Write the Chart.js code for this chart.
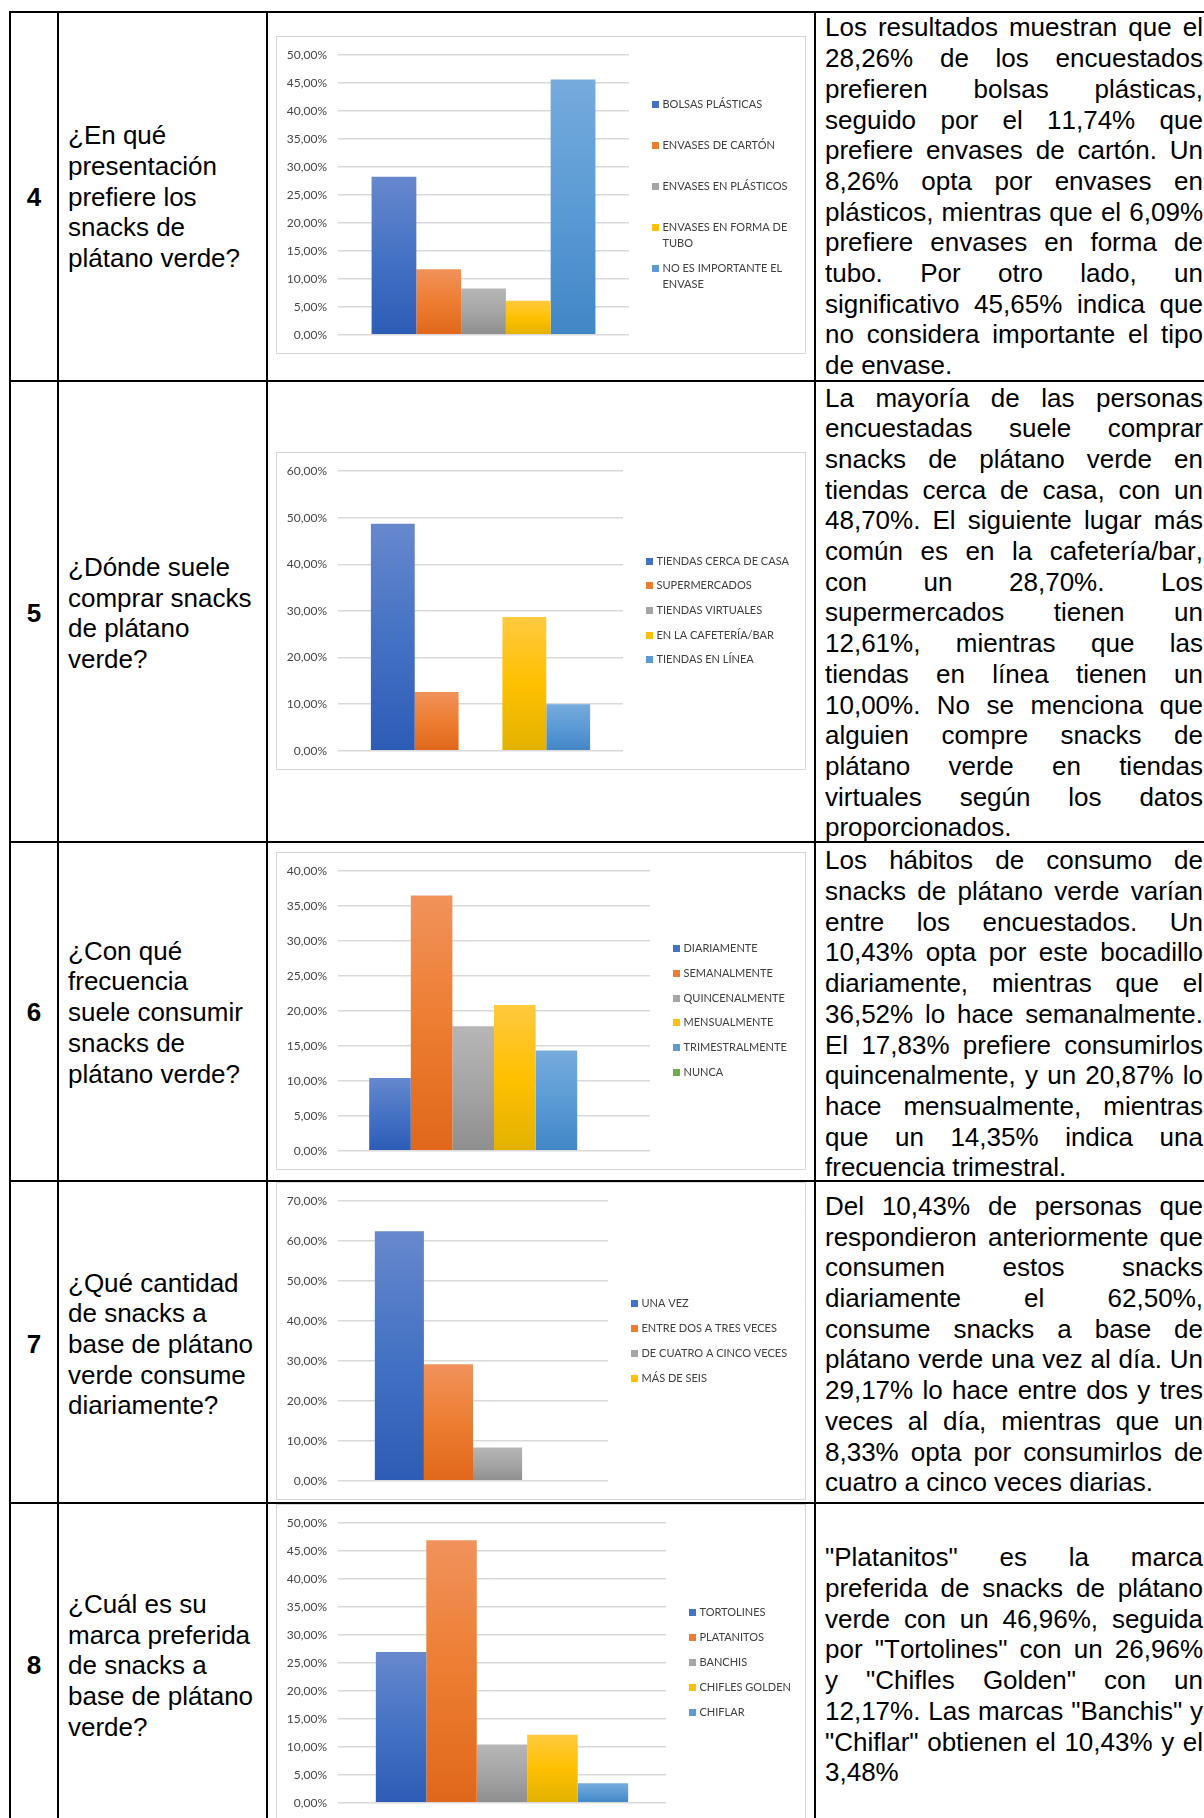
<!DOCTYPE html>
<html lang="es">
<head>
<meta charset="utf-8">
<title>Snacks de plátano verde – resultados de la encuesta</title>
<script src="https://cdn.jsdelivr.net/npm/chart.js@4.4.1/dist/chart.umd.min.js"></script>
<style>
  html, body { margin: 0; padding: 0; background: #fff; }
  body {
    position: relative; width: 1204px; height: 1818px; overflow: hidden;
    font-family: "Liberation Sans", Arial, sans-serif; color: #000;
    font-kerning: none;
  }
  .hl { position: absolute; left: 9px; width: 1260px; height: 2px; background: #000; }
  .vl { position: absolute; top: 11px; width: 2px; height: 1900px; background: #000; }
  .num {
    position: absolute; left: 11px; width: 46px; text-align: center;
    font-weight: bold; font-size: 26px; line-height: 30.7px;
  }
  .q {
    position: absolute; left: 68px; font-size: 26px; line-height: 30.7px; white-space: nowrap;
  }
  .desc { position: absolute; left: 825px; width: 378px; font-size: 26px; line-height: 30.7px; }
  .desc div { white-space: nowrap; text-align: justify; text-align-last: justify; }
  .desc div.last { text-align: left; text-align-last: left; }
  .box {
    position: absolute; left: 276px; width: 530px; height: 318px;
    box-sizing: border-box; border: 1px solid #d6d6d6; background: #fff;
  }
  .box canvas { display: block; }
</style>
</head>
<body>
<div id="page"></div>
<script>
// ---- Pregunta 4: presentación preferida ----
const q4Series = ['BOLSAS PLÁSTICAS', 'ENVASES DE CARTÓN', 'ENVASES EN PLÁSTICOS', 'ENVASES EN FORMA DE TUBO', 'NO ES IMPORTANTE EL ENVASE'];
const q4Values = [28.26, 11.74, 8.26, 6.09, 45.65];
const q4Axis = [0, 50, 5];   // min, max, step (%)

// ---- Pregunta 5: lugar de compra ----
const q5Series = ['TIENDAS CERCA DE CASA', 'SUPERMERCADOS', 'TIENDAS VIRTUALES', 'EN LA CAFETERÍA/BAR', 'TIENDAS EN LÍNEA'];
const q5Values = [48.70, 12.61, 0, 28.70, 10.00];
const q5Axis = [0, 60, 10];

// ---- Pregunta 6: frecuencia de consumo ----
const q6Series = ['DIARIAMENTE', 'SEMANALMENTE', 'QUINCENALMENTE', 'MENSUALMENTE', 'TRIMESTRALMENTE', 'NUNCA'];
const q6Values = [10.43, 36.52, 17.83, 20.87, 14.35, 0];
const q6Axis = [0, 40, 5];

// ---- Pregunta 7: cantidad diaria ----
const q7Series = ['UNA VEZ', 'ENTRE DOS A TRES VECES', 'DE CUATRO A CINCO VECES', 'MÁS DE SEIS'];
const q7Values = [62.50, 29.17, 8.33, 0];
const q7Axis = [0, 70, 10];

// ---- Pregunta 8: marca preferida ----
const q8Series = ['TORTOLINES', 'PLATANITOS', 'BANCHIS', 'CHIFLES GOLDEN', 'CHIFLAR'];
const q8Values = [26.96, 46.96, 10.43, 12.17, 3.48];
const q8Axis = [0, 50, 5];

// Texto de la tabla
const numbers = ['4', '5', '6', '7', '8'];
const questions = [
  ['¿En qué', 'presentación', 'prefiere los', 'snacks de', 'plátano verde?'],
  ['¿Dónde suele', 'comprar snacks', 'de plátano', 'verde?'],
  ['¿Con qué', 'frecuencia', 'suele consumir', 'snacks de', 'plátano verde?'],
  ['¿Qué cantidad', 'de snacks a', 'base de plátano', 'verde consume', 'diariamente?'],
  ['¿Cuál es su', 'marca preferida', 'de snacks a', 'base de plátano', 'verde?']
];
const descriptions = [
  ['Los resultados muestran que el', '28,26% de los encuestados', 'prefieren bolsas plásticas,',
   'seguido por el 11,74% que', 'prefiere envases de cartón. Un', '8,26% opta por envases en',
   'plásticos, mientras que el 6,09%', 'prefiere envases en forma de', 'tubo. Por otro lado, un',
   'significativo 45,65% indica que', 'no considera importante el tipo', 'de envase.'],
  ['La mayoría de las personas', 'encuestadas suele comprar', 'snacks de plátano verde en',
   'tiendas cerca de casa, con un', '48,70%. El siguiente lugar más', 'común es en la cafetería/bar,',
   'con un 28,70%. Los', 'supermercados tienen un', '12,61%, mientras que las',
   'tiendas en línea tienen un', '10,00%. No se menciona que', 'alguien compre snacks de',
   'plátano verde en tiendas', 'virtuales según los datos', 'proporcionados.'],
  ['Los hábitos de consumo de', 'snacks de plátano verde varían', 'entre los encuestados. Un',
   '10,43% opta por este bocadillo', 'diariamente, mientras que el', '36,52% lo hace semanalmente.',
   'El 17,83% prefiere consumirlos', 'quincenalmente, y un 20,87% lo', 'hace mensualmente, mientras',
   'que un 14,35% indica una', 'frecuencia trimestral.'],
  ['Del 10,43% de personas que', 'respondieron anteriormente que', 'consumen estos snacks',
   'diariamente el 62,50%,', 'consume snacks a base de', 'plátano verde una vez al día. Un',
   '29,17% lo hace entre dos y tres', 'veces al día, mientras que un', '8,33% opta por consumirlos de',
   'cuatro a cinco veces diarias.'],
  ['"Platanitos" es la marca', 'preferida de snacks de plátano', 'verde con un 46,96%, seguida',
   'por "Tortolines" con un 26,96%', 'y "Chifles Golden" con un', '12,17%. Las marcas "Banchis" y',
   '"Chiflar" obtienen el 10,43% y el', '3,48%']
];

// Colores de serie (claro, base, oscuro) para el degradado vertical de cada barra
const seriesColors = [
  ['#6788cd', '#4472c4', '#2d5cb6'],
  ['#f1925b', '#ed7d31', '#e0671a'],
  ['#b6b6b6', '#a5a5a5', '#8e8e8e'],
  ['#ffc940', '#ffc000', '#e2b200'],
  ['#76abdd', '#5b9bd5', '#4186c6'],
  ['#86bd62', '#70ad47', '#5c9637']
];

// ---------------- Maquetación de la tabla ----------------
const page = document.getElementById('page');
function el(cls, styles, html) {
  const d = document.createElement('div');
  d.className = cls;
  Object.assign(d.style, styles);
  if (html !== undefined) d.innerHTML = html;
  page.appendChild(d);
  return d;
}
const rowLines = [11, 380, 841, 1180, 1502];
const colLines = [9, 57, 266, 814];
rowLines.forEach(y => el('hl', { top: y + 'px' }));
colLines.forEach(x => el('vl', { left: x + 'px' }));

const LH = 30.7;
const numCenters = [197.2, 613.6, 1012.6, 1344.3, 1665.7];
const qFirstCenters = [135.7, 567.2, 951.1, 1282.9, 1604.2];
const dFirstCenters = [27.8, 397.9, 860.7, 1206.3, 1557.7];

numbers.forEach((n, i) => {
  const d = el('num', { top: (numCenters[i] - LH / 2) + 'px' });
  d.textContent = n;
});
questions.forEach((lines, i) => {
  const d = el('q', { top: (qFirstCenters[i] - LH / 2) + 'px' });
  d.innerHTML = lines.map(t => t.replace(/&/g, '&amp;')).join('<br>');
});
descriptions.forEach((lines, i) => {
  const d = el('desc', { top: (dFirstCenters[i] - LH / 2) + 'px' });
  lines.forEach((t, j) => {
    const ln = document.createElement('div');
    if (j === lines.length - 1) ln.className = 'last';
    ln.textContent = t;
    d.appendChild(ln);
  });
});

// ---------------- Gráficos ----------------
Chart.defaults.font.family = 'Lato, "Open Sans", sans-serif';
Chart.defaults.color = '#474747';

function pctLabel(v) {
  return v.toFixed(2).replace('.', ',') + '%';
}

function wrapWords(ctx, text, maxWidth) {
  const words = text.split(' ');
  const lines = [];
  let cur = '';
  words.forEach(w => {
    const test = cur ? cur + ' ' + w : w;
    if (cur && ctx.measureText(test).width > maxWidth) {
      lines.push(cur);
      cur = w;
    } else {
      cur = test;
    }
  });
  if (cur) lines.push(cur);
  return lines;
}

// Leyenda lateral estilo hoja de cálculo: cuadro de color + texto, centrada verticalmente
const sideLegend = {
  id: 'sideLegend',
  afterDraw(chart, args, opts) {
    const { ctx, chartArea } = chart;
    ctx.save();
    ctx.font = opts.fontSize + 'px ' + Chart.defaults.font.family;
    ctx.textBaseline = 'middle';
    ctx.textAlign = 'left';
    const items = chart.data.datasets.map(ds => ({
      lines: wrapWords(ctx, ds.label, opts.maxWidth),
      color: ds.legendColor
    }));
    const lastExtra = (items[items.length - 1].lines.length - 1) * opts.lineHeight;
    const span = (items.length - 1) * opts.step + lastExtra;
    const y0 = chart.height / 2 + opts.dy - span / 2;
    const bx = Math.round(chartArea.right + opts.gap);
    items.forEach((it, i) => {
      const y = y0 + i * opts.step;
      ctx.fillStyle = it.color;
      ctx.fillRect(bx, Math.round(y - opts.box / 2), opts.box, opts.box);
      ctx.fillStyle = opts.color;
      it.lines.forEach((ln, j) => ctx.fillText(ln, bx + opts.textGap, y + j * opts.lineHeight));
    });
    ctx.restore();
  }
};

function barFill(colorIdx) {
  return (c) => {
    const chart = c.chart;
    const y = chart.scales && chart.scales.y;
    if (!chart.chartArea || !y || c.raw === undefined) return seriesColors[colorIdx][1];
    const top = y.getPixelForValue(c.raw);
    const bottom = y.getPixelForValue(0);
    if (bottom - top < 1) return seriesColors[colorIdx][1];
    const g = chart.ctx.createLinearGradient(0, top, 0, bottom);
    g.addColorStop(0, seriesColors[colorIdx][0]);
    g.addColorStop(0.5, seriesColors[colorIdx][1]);
    g.addColorStop(1, seriesColors[colorIdx][2]);
    return g;
  };
}

function makeChart(spec) {
  const box = el('box', { top: spec.top + 'px' });
  const canvas = document.createElement('canvas');
  canvas.width = 528;
  canvas.height = 316;
  box.appendChild(canvas);

  const n = spec.series.length;
  const datasets = spec.series.map((name, i) => ({
    label: name,
    data: [spec.values[i]],
    backgroundColor: barFill(i),
    legendColor: seriesColors[i][1],
    borderWidth: 0,
    barPercentage: 1,
    categoryPercentage: n / (n + 1.5)   // separación entre grupos del 150 %
  }));

  return new Chart(canvas, {
    type: 'bar',
    data: { labels: [''], datasets },
    options: {
      responsive: false,
      animation: false,
      layout: { padding: { left: 0, top: 15, bottom: 15.5, right: 528 - (spec.plotRight - 277) } },
      plugins: {
        legend: { display: false },
        tooltip: { enabled: false },
        sideLegend: {
          gap: 23, step: spec.legendStep, lineHeight: 16, box: 7, textGap: 10.5,
          fontSize: 11, maxWidth: spec.legendMaxWidth || 400, dy: -0.5, color: '#404040'
        }
      },
      scales: {
        x: { display: false },
        y: {
          min: spec.axis[0], max: spec.axis[1],
          afterFit(scale) { scale.width = 61; },
          border: { display: false },
          grid: { color: '#d9d9d9', lineWidth: 1.5, drawTicks: false },
          ticks: {
            stepSize: spec.axis[2], padding: 11,
            font: { size: 12 }, color: '#474747',
            callback: (v) => pctLabel(v)
          }
        }
      }
    },
    plugins: [sideLegend]
  });
}

makeChart({ top: 36,   series: q4Series, values: q4Values, axis: q4Axis, plotRight: 629, legendStep: 41, legendMaxWidth: 140 });
makeChart({ top: 452,  series: q5Series, values: q5Values, axis: q5Axis, plotRight: 623, legendStep: 24.6 });
makeChart({ top: 852,  series: q6Series, values: q6Values, axis: q6Axis, plotRight: 650, legendStep: 24.8 });
makeChart({ top: 1182, series: q7Series, values: q7Values, axis: q7Axis, plotRight: 608, legendStep: 25 });
makeChart({ top: 1504, series: q8Series, values: q8Values, axis: q8Axis, plotRight: 666, legendStep: 25 });
</script>
</body>
</html>
